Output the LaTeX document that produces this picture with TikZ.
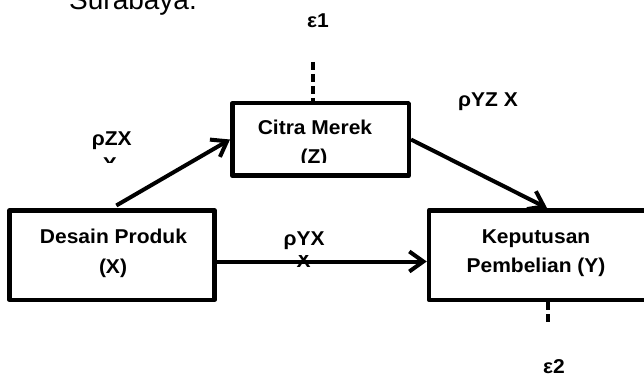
\documentclass[tikz,border=0pt]{standalone}
\usepackage{fontspec}
\setmainfont{Liberation Sans}
\newfontfamily\lblfont{Liberation Sans}[FakeStretch=1.05]
\usetikzlibrary{arrows.meta}
\begin{document}
\begin{tikzpicture}[x=1pt,y=-1pt,
  box/.style={draw, line width=4.5pt, line join=round, inner sep=0pt},
  lbl/.style={font=\lblfont\bfseries\fontsize{20}{30}\selectfont, anchor=base, inner sep=0pt},
  arr/.style={line width=4pt, -{Straight Barb[length=14pt,width=20pt]}},
  dashline/.style={line width=3.5pt, dash pattern=on 8pt off 4pt}]
\clip (0,0) rectangle (644,379);
\node[anchor=base west, inner sep=0pt, font=\fontsize{28}{34}\selectfont] (title) at (69,10) {Surabaya.};
% boxes
\node[box, minimum width=205pt, minimum height=89.5pt] (X) at (112,255) {};
\node[box, minimum width=176.5pt, minimum height=72.5pt] (Z) at (320.5,139.5) {};
\node[box, minimum width=236pt, minimum height=89.5pt] (Y) at (547,255) {};
% box texts
\node[lbl] (xt1) at (113.5,243) {Desain Produk};
\node[lbl] (xt2) at (113,273) {(X)};
\node[lbl] (zt1) at (315,135) {Citra Merek};
\begin{scope}
\clip (0,0) rectangle (644,162.5);
\node[lbl] (zt2) at (314,164) {(Z)};
\end{scope}
\node[lbl] (yt1) at (536,243) {Keputusan};
\node[lbl] (yt2) at (536,272) {Pembelian (Y)};
% path labels
\node[lbl] (pzx) at (111.7,146) {ρZX};
\begin{scope}
\clip (0,0) rectangle (644,163);
\node[lbl] (pzx2) at (110,171.3) {X};
\end{scope}
\node[lbl] (pyx) at (304,245) {ρYX};
\begin{scope}
\clip (0,255) rectangle (644,379);
\node[lbl] (pyx2) at (303.5,267) {X};
\end{scope}
\node[lbl] (pyzx) at (488,107) {ρYZ X};
\node[lbl] (e1) at (318,28) {ε1};
\node[lbl] (e2) at (554,373) {ε2};
% arrows
\draw[arr, shorten <=5pt] (X.north) -- (Z.west);
\draw[arr] (Z.east) -- (Y.north);
\draw[arr] ([yshift=-6.5pt]X.east) -- ([yshift=-6.5pt]Y.west);
% error terms
\coordinate (e1a) at (313,62);
\draw[dashline] (e1a) -- (e1a |- Z.north);
\coordinate (e2b) at (548,323);
\draw[dashline] (Y.south -| e2b) -- (e2b);
\end{tikzpicture}
\end{document}
